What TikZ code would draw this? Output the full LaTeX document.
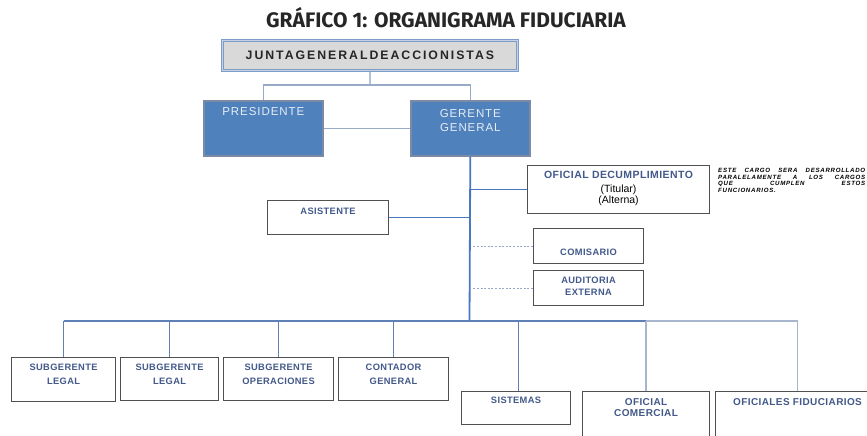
\documentclass[tikz,border=0pt]{standalone}
\usepackage{fontspec}
\setmainfont{Liberation Sans}
\newfontfamily\titlefont{Fira Sans}
\newfontfamily\spaced[LetterSpace=4]{Liberation Sans}
\newfontfamily\wspaced[LetterSpace=8]{Liberation Sans}
\newfontfamily\jspaced[LetterSpace=16]{Liberation Sans}
\newfontfamily\nspaced[LetterSpace=12]{Liberation Sans}
\usetikzlibrary{shadows}
\definecolor{boxgray}{HTML}{505050}
\definecolor{lbltext}{HTML}{42598A}
\definecolor{presfill}{HTML}{4F81BD}
\definecolor{presborder}{HTML}{7C8BA3}
\definecolor{whitetext}{HTML}{E6EDF6}
\definecolor{mainline}{HTML}{4A78C0}
\definecolor{connline}{HTML}{98AAC6}
\definecolor{busline}{HTML}{5F80B6}
\definecolor{lightbus}{HTML}{A7B6CC}
\definecolor{juntafill}{HTML}{D9D9D9}
\definecolor{juntaborder}{HTML}{7E9CC8}
\begin{document}
\begin{tikzpicture}[x=1pt,y=-1pt,
  box/.style={draw=boxgray, line width=1.1pt, fill=white, anchor=north west, inner sep=0pt,
    drop shadow={shadow xshift=0.8pt, shadow yshift=-0.8pt, fill=black!25, opacity=0.6}},
  size/.style 2 args={minimum width=#1, minimum height=#2},
  blbl/.style={anchor=north, inner sep=0pt, align=center, text=lbltext,
    font=\spaced\bfseries\fontsize{9.3}{14}\selectfont},
  bluebox/.style={draw=presborder, line width=1.6pt, fill=presfill, anchor=north west, inner sep=0pt,
    drop shadow={shadow xshift=0.8pt, shadow yshift=-0.8pt, fill=black!25, opacity=0.6}},
  wlbl/.style={anchor=north, inner sep=0pt, align=center, text=whitetext,
    font=\wspaced\fontsize{11.5}{14.5}\selectfont},
  conn/.style={draw=connline, line width=1.2pt},
  mainconn/.style={draw=mainline, line width=1.8pt},
  busconn/.style={draw=busline, line width=1.2pt},
  lightconn/.style={draw=lightbus, line width=1.2pt},
  dashconn/.style={draw=connline, line width=0.9pt, dash pattern=on 2pt off 1.6pt}
]
\useasboundingbox (0,0) rectangle (867,436);
\clip (0,0) rectangle (867,436);

% title
\node[font=\titlefont\bfseries\fontsize{21}{23}\selectfont, text=black!85, inner sep=0pt] (title) at (446,18) {GRÁFICO 1: ORGANIGRAMA FIDUCIARIA};

% junta
\node[anchor=north west, size={295pt}{30pt}, fill=juntafill, draw=juntaborder, line width=0.8pt,
  double=juntaborder!45, double distance=1.4pt, inner sep=0pt,
  font=\jspaced\bfseries\fontsize{12.3}{14}\selectfont, text=black!85] (junta) at (222,40) {JUNTAGENERALDEACCIONISTAS};

% presidente & gerente
\node[bluebox, size={119pt}{55pt}, label={[wlbl, yshift=-7pt]north:PRESIDENTE}] (pres) at (203,100) {};
\node[bluebox, size={119pt}{55pt}, label={[wlbl, yshift=-9pt]north:GERENTE\\GENERAL}] (ger) at (410,100) {};

% upper connectors
\coordinate (jbus) at (370,85);
\draw[draw=connline!80!mainline, line width=1.2pt] (junta.south) -- (jbus);
\draw[conn] (pres.north) |- (jbus) -| (ger.north);
\draw[conn] (pres.east) -- (ger.west);

% oficial de cumplimiento
\node[box, size={182pt}{48pt}, label={[anchor=north, inner sep=0pt, align=center, yshift=-6pt,
   font=\fontsize{10.5}{11.5}\selectfont]north:{\color{lbltext}\spaced\bfseries OFICIAL DECUMPLIMIENTO}\\[2pt](Titular)\\(Alterna)}] (ofi) at (527,165) {};

% note
\node[anchor=north west, inner sep=0pt, align=left, font=\nspaced\bfseries\itshape\fontsize{6.1}{6.6}\selectfont] (note) at (718,168)
 {\makebox[147pt][s]{ESTE CARGO SERA DESARROLLADO}\\
  \makebox[147pt][s]{PARALELAMENTE A LOS CARGOS}\\
  \makebox[147pt][s]{QUE CUMPLEN ESTOS}\\
  FUNCIONARIOS.};

% asistente, comisario, auditoria
\node[box, size={121pt}{34pt}, label={[blbl, yshift=-7.5pt]north:ASISTENTE}] (asis) at (267,200) {};
\node[box, size={110pt}{35pt}, label={[blbl, yshift=-21pt]north:COMISARIO}] (comi) at (533,228) {};
\node[box, size={110pt}{35pt}, label={[blbl, yshift=-7pt, font=\spaced\bfseries\fontsize{9.3}{11.5}\selectfont]north:AUDITORIA\\EXTERNA}] (audi) at (533,270) {};

% main spine
\coordinate (spine) at (469.5,321);
\draw[mainconn] (ger.south) -- (spine);
\draw[mainconn] (ger.south |- ofi.west) -- (ofi.west);
\draw[mainconn] (ger.south |- asis.east) -- (asis.east);
\draw[dashconn] ([xshift=3pt]ger.south |- comi.west) -- (comi.west);
\draw[dashconn] ([xshift=3pt]ger.south |- audi.west) -- (audi.west);

% bottom boxes
\node[box, size={104pt}{44pt}, label={[blbl, yshift=-7pt]north:SUBGERENTE\\LEGAL}] (sg1) at (11,357) {};
\node[box, size={98pt}{43pt}, label={[blbl, yshift=-7pt]north:SUBGERENTE\\LEGAL}] (sg2) at (120,357) {};
\node[box, size={110pt}{43pt}, label={[blbl, yshift=-7pt]north:SUBGERENTE\\OPERACIONES}] (sg3) at (223,357) {};
\node[box, size={110pt}{43pt}, label={[blbl, yshift=-7pt]north:CONTADOR\\GENERAL}] (cont) at (338,357) {};
\node[box, size={109pt}{33pt}, label={[blbl, yshift=-6pt]north:SISTEMAS}] (sist) at (461,391) {};
\node[box, size={127pt}{60pt}, label={[blbl, yshift=-7pt, font=\spaced\bfseries\fontsize{10}{11}\selectfont]north:OFICIAL\\COMERCIAL}] (ofcom) at (582,391) {};
\node[box, size={164pt}{60pt}, label={[blbl, yshift=-7pt, font=\spaced\bfseries\fontsize{10}{11}\selectfont]north:OFICIALES FIDUCIARIOS}] (ofid) at (715,391) {};

% bottom bus
\coordinate (busL) at (sg1.north |- spine);
\coordinate (busR) at (ofid.north |- spine);
\draw[busconn] (busL) -- (ofcom.north |- spine);
\draw[lightconn] (ofcom.north |- spine) -- (busR);
\draw[busconn] (busL) -- (sg1.north);
\draw[busconn] (sg2.north |- spine) -- (sg2.north);
\draw[busconn] (sg3.north |- spine) -- (sg3.north);
\draw[busconn] (cont.north |- spine) -- (cont.north);
\draw[busconn] ([xshift=2.5pt]sist.north |- spine) -- ([xshift=2.5pt]sist.north);
\draw[lightconn] (ofcom.north |- spine) -- (ofcom.north);
\draw[lightconn] (busR) -- (ofid.north);
\end{tikzpicture}
\end{document}
